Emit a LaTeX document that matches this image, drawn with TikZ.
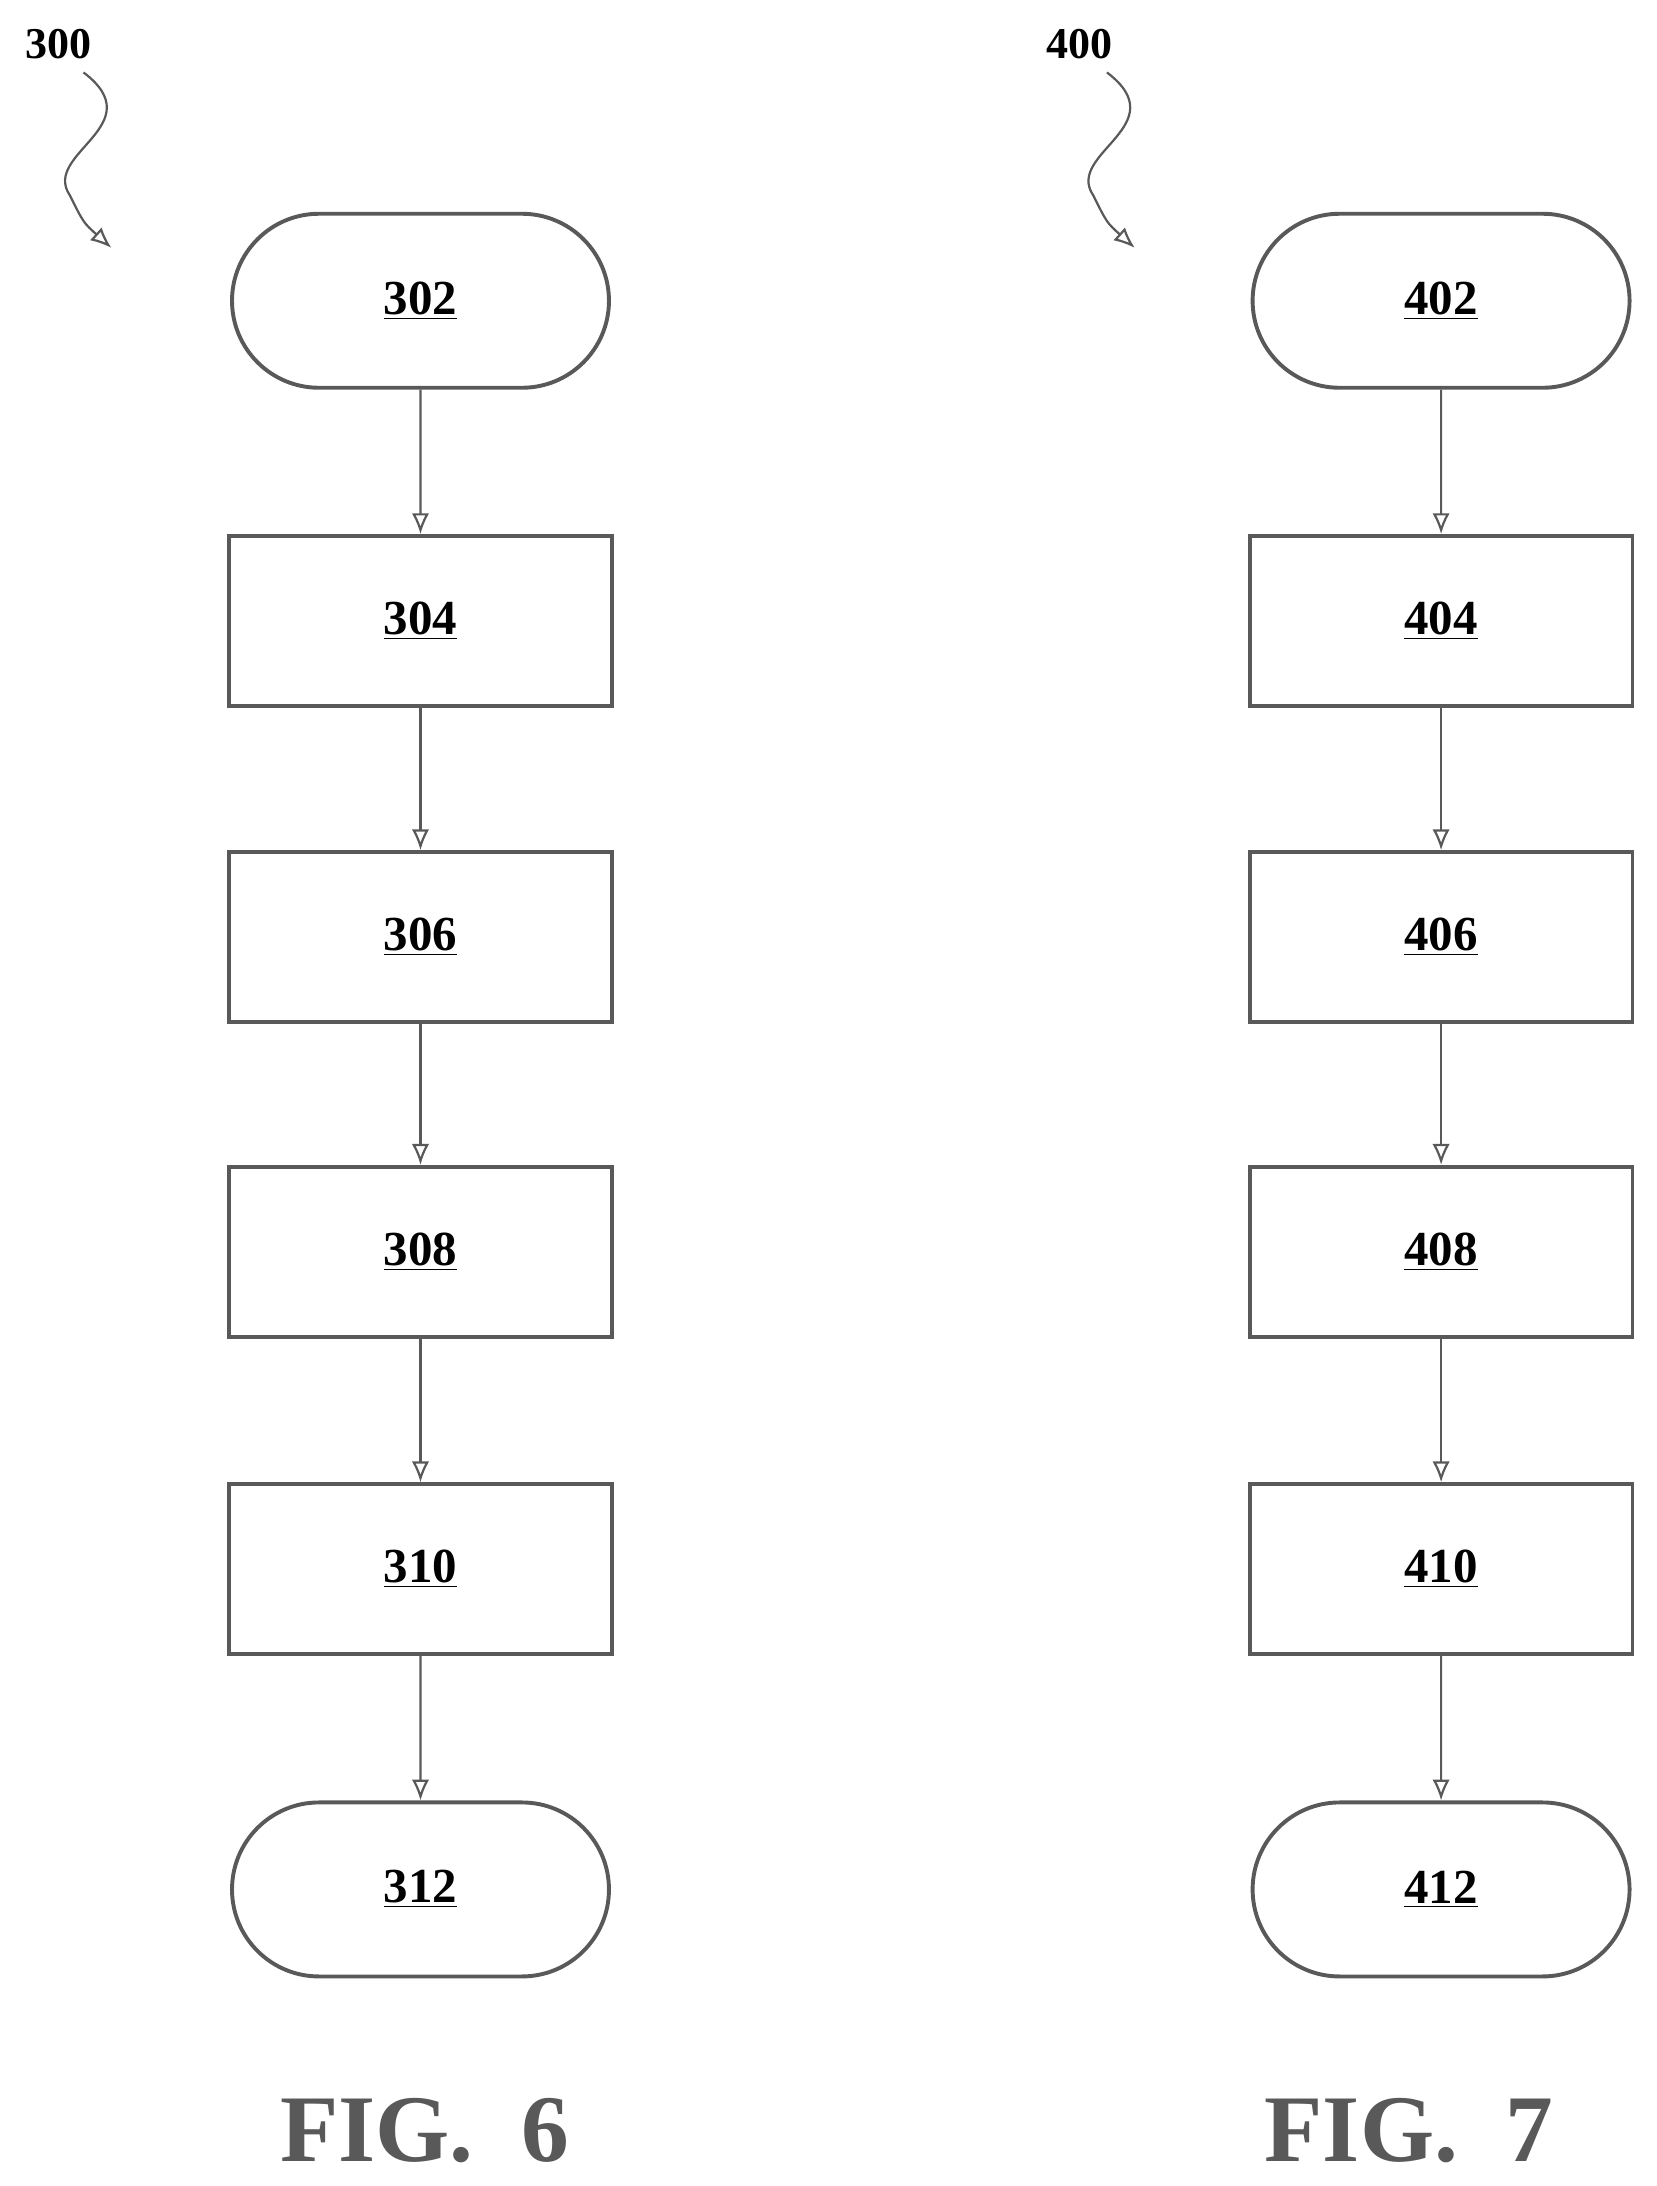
\documentclass[tikz,border=0pt]{standalone}
\usepackage{fontspec}
\setmainfont{Liberation Serif}
\usetikzlibrary{shapes.misc,arrows.meta,positioning}
\definecolor{patgray}{gray}{0.35}
\tikzset{
	stepbox/.style={rectangle, draw=patgray, line width=1.6pt, minimum width=5.5cm, minimum height=2.44cm, font=\fontsize{20}{24}\selectfont\bfseries},
	termbox/.style={rounded rectangle, draw=patgray, line width=1.6pt, minimum width=5.65cm, minimum height=2.5cm, font=\fontsize{20}{24}\selectfont\bfseries},
	flow/.style={draw=patgray, line width=0.9pt, -{Latex[open,length=3mm,width=2.5mm]}},
	reflabel/.style={font=\fontsize{18}{22}\selectfont\bfseries},
	figlabel/.style={font=\fontsize{39}{46}\selectfont\bfseries, text=patgray}
}
\begin{document}
\begin{tikzpicture}[x=0.02cm,y=-0.02cm]
			\useasboundingbox (0,0) rectangle (1190,1570);
			% FIG. 6
			\node[reflabel] (r300) at (42,32) {300};
			\node[termbox] (n302) at (302,216) {\underline{302}};
			\node[stepbox] (n304) at (302,446) {\underline{304}};
			\node[stepbox] (n306) at (302,673) {\underline{306}};
			\node[stepbox] (n308) at (302,899) {\underline{308}};
			\node[stepbox] (n310) at (302,1127) {\underline{310}};
			\node[termbox] (n312) at (302,1357) {\underline{312}};
			\coordinate (s300) at (80,178);
			\draw[flow] (60,52) .. controls (110,90) and (30,110) .. (50,140) .. controls (60,160) .. (s300);
			\draw[flow] (n302) -- (n304);
			\draw[flow] (n304) -- (n306);
			\draw[flow] (n306) -- (n308);
			\draw[flow] (n308) -- (n310);
			\draw[flow] (n310) -- (n312);
			\node[figlabel] (f6) at (305,1530) {FIG.~~6};
			% FIG. 7
			\node[reflabel] (r400) at (775,32) {400};
			\node[termbox] (n402) at (1035,216) {\underline{402}};
			\node[stepbox] (n404) at (1035,446) {\underline{404}};
			\node[stepbox] (n406) at (1035,673) {\underline{406}};
			\node[stepbox] (n408) at (1035,899) {\underline{408}};
			\node[stepbox] (n410) at (1035,1127) {\underline{410}};
			\node[termbox] (n412) at (1035,1357) {\underline{412}};
			\coordinate (s400) at (815,178);
			\draw[flow] (795,52) .. controls (845,90) and (765,110) .. (785,140) .. controls (795,160) .. (s400);
			\draw[flow] (n402) -- (n404);
			\draw[flow] (n404) -- (n406);
			\draw[flow] (n406) -- (n408);
			\draw[flow] (n408) -- (n410);
			\draw[flow] (n410) -- (n412);
			\node[figlabel] (f7) at (1012,1530) {FIG.~~7};
\end{tikzpicture}
\end{document}
